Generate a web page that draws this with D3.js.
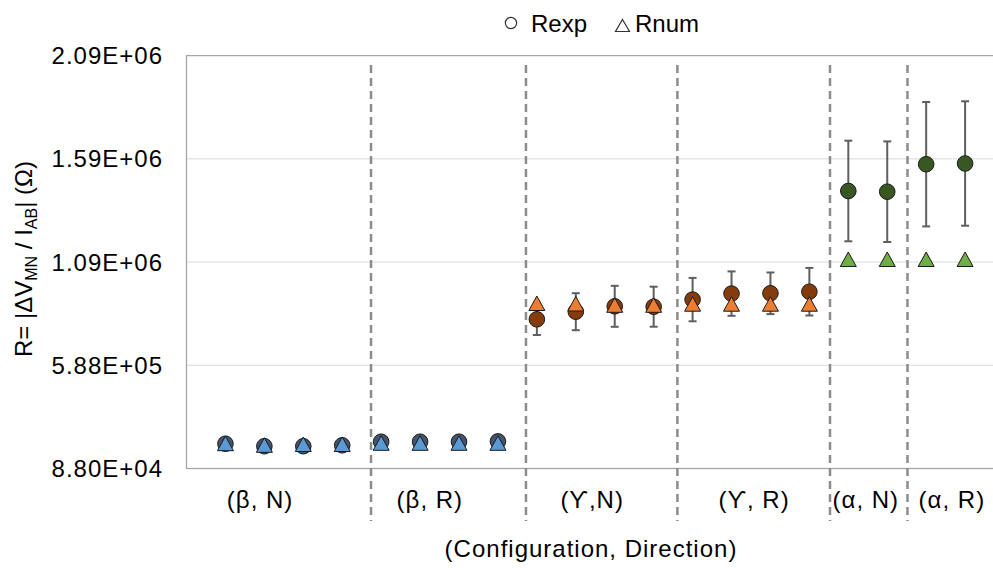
<!DOCTYPE html>
<html>
<head>
<meta charset="utf-8">
<script src="https://cdn.jsdelivr.net/npm/d3@7"></script>
<style>
  html, body { margin: 0; padding: 0; background: #fff; }
  svg { display: block; font-family: "Liberation Sans", Arial, sans-serif; }
</style>
</head>
<body>
<svg id="chart" width="993" height="568"></svg>
<script>
// ---------- data ----------
const xPositions = [1,2,3,4,5,6,7,8,9,10,11,12,13,14,15,16,17,18,19,20];
const groupIndex = [0,0,0,0,1,1,1,1,2,2,2,2,3,3,3,3,4,4,5,5];
const rexp = [208200,196100,196100,200500, 217900,217900,217900,219500,
              811400,848300,874400,872500, 906900,936000,937500,945200,
              1433500,1430100, 1563400,1566800];
const rexpErr = [0,0,0,0, 0,0,0,0,
                 76100,89700,99400,97000, 105200,107600,100900,115400,
                 243900,243900, 301600,301600];
const rnum = [208200,200500,204400,204400, 210200,210200,210200,210200,
              888000,885600,879300,879300, 884600,884600,884600,884600,
              1101400,1101400, 1101400,1101400];
const groupLabels = ["(β, N)", "(β, R)", "(ϒ,N)", "(ϒ, R)", "(α, N)", "(α, R)"];
const groupLabelX = [1.89, 6.25, 10.42, 14.58, 17.45, 19.66];
const dividerX = [4.74, 8.72, 12.61, 16.53, 18.52];
const yTicks = [88000, 588500, 1089000, 1589500, 2090000];
const yTickLabels = ["8.80E+04", "5.88E+05", "1.09E+06", "1.59E+06", "2.09E+06"];
const expColors = ["#44546A", "#44546A", "#843C0C", "#843C0C", "#385723", "#385723"];
const numColors = ["#5B9BD5", "#5B9BD5", "#ED7D31", "#ED7D31", "#70AD47", "#70AD47"];
const legendLabels = ["Rexp", "Rnum"];

// ---------- layout ----------
const svg = d3.select("#chart");
const plotLeft = 186.5, plotTop = 55.6, plotBottom = 468.5;
const x = d3.scaleLinear().domain([0, 21]).range([plotLeft, plotLeft + 21 * 38.93]);
const y = d3.scaleLinear().domain([88000, 2090000]).range([plotBottom, plotTop]);

// gridlines
svg.append("g").selectAll("line").data(yTicks.slice(1, 4)).join("line")
  .attr("x1", plotLeft).attr("x2", 993)
  .attr("y1", d => y(d)).attr("y2", d => y(d))
  .attr("stroke", "#d9d9d9").attr("stroke-width", 1);

// plot border
svg.append("rect")
  .attr("x", plotLeft).attr("y", y(2090000))
  .attr("width", x(21) - plotLeft).attr("height", y(88000) - y(2090000))
  .attr("fill", "none").attr("stroke", "#a6a6a6").attr("stroke-width", 1.3);

// y tick labels
svg.append("g").selectAll("text").data(yTicks).join("text")
  .attr("x", 163).attr("y", d => y(d) + 8.5)
  .attr("text-anchor", "end")
  .attr("font-size", 24).attr("letter-spacing", 1)
  .attr("fill", "#000")
  .text((d, i) => yTickLabels[i]);

// dividers
svg.append("g").selectAll("line").data(dividerX).join("line")
  .attr("x1", d => x(d)).attr("x2", d => x(d))
  .attr("y1", 65).attr("y2", 521)
  .attr("stroke", "#8c8c8c").attr("stroke-width", 2.5)
  .attr("stroke-dasharray", "8,5");

// group labels
svg.append("g").selectAll("text").data(groupLabels).join("text")
  .attr("x", (d, i) => x(groupLabelX[i])).attr("y", 508)
  .attr("text-anchor", "middle")
  .attr("font-size", 24).attr("letter-spacing", 1)
  .text(d => d);

// x axis title
svg.append("text")
  .attr("x", 591).attr("y", 557)
  .attr("text-anchor", "middle")
  .attr("font-size", 24).attr("letter-spacing", 1)
  .text("(Configuration, Direction)");

// y axis title
const yt = svg.append("text")
  .attr("transform", "translate(32,259) rotate(-90)")
  .attr("text-anchor", "middle")
  .attr("font-size", 24);
yt.append("tspan").text("R= |ΔV");
yt.append("tspan").attr("font-size", 16).attr("dy", 5).text("MN");
yt.append("tspan").attr("dy", -5).text(" / I");
yt.append("tspan").attr("font-size", 16).attr("dy", 5).text("AB");
yt.append("tspan").attr("dy", -5).text("| (Ω)");

// error bars
const eb = svg.append("g");
const errIdx = xPositions.map((d, i) => i).filter(i => rexpErr[i] > 0);
eb.selectAll("line.v").data(errIdx).join("line")
  .attr("x1", i => x(xPositions[i])).attr("x2", i => x(xPositions[i]))
  .attr("y1", i => y(rexp[i] + rexpErr[i])).attr("y2", i => y(rexp[i] - rexpErr[i]))
  .attr("stroke", "#5f5f5f").attr("stroke-width", 2);
eb.append("g").selectAll("line").data(errIdx).join("line")
  .attr("x1", i => x(xPositions[i]) - 4).attr("x2", i => x(xPositions[i]) + 4)
  .attr("y1", i => y(rexp[i] + rexpErr[i])).attr("y2", i => y(rexp[i] + rexpErr[i]))
  .attr("stroke", "#5f5f5f").attr("stroke-width", 2);
eb.append("g").selectAll("line").data(errIdx).join("line")
  .attr("x1", i => x(xPositions[i]) - 4).attr("x2", i => x(xPositions[i]) + 4)
  .attr("y1", i => y(rexp[i] - rexpErr[i])).attr("y2", i => y(rexp[i] - rexpErr[i]))
  .attr("stroke", "#5f5f5f").attr("stroke-width", 2);

// circles (Rexp)
svg.append("g").selectAll("circle").data(xPositions).join("circle")
  .attr("cx", d => x(d)).attr("cy", (d, i) => y(rexp[i]))
  .attr("r", 7.8)
  .attr("fill", (d, i) => expColors[groupIndex[i]])
  .attr("stroke", "#1a1a1a").attr("stroke-width", 1);

// triangles (Rnum)
const tri = (cx, cy) => `M${cx},${cy - 7.5}L${cx + 8},${cy + 7}L${cx - 8},${cy + 7}Z`;
svg.append("g").selectAll("path").data(xPositions).join("path")
  .attr("d", (d, i) => tri(x(d), y(rnum[i])))
  .attr("fill", (d, i) => numColors[groupIndex[i]])
  .attr("stroke", "#1a1a1a").attr("stroke-width", 1);

// legend
const lg = svg.append("g");
lg.append("circle").attr("cx", 511).attr("cy", 23).attr("r", 5.6)
  .attr("fill", "#fff").attr("stroke", "#333").attr("stroke-width", 1.2);
lg.append("text").attr("x", 531).attr("y", 31.5).attr("font-size", 24).text(legendLabels[0]);
lg.append("path").attr("d", "M622.5,19.5L629.5,31.5L615.5,31.5Z")
  .attr("fill", "#fff").attr("stroke", "#333").attr("stroke-width", 1.2);
lg.append("text").attr("x", 635).attr("y", 31.5).attr("font-size", 24).text(legendLabels[1]);
</script>
</body>
</html>
